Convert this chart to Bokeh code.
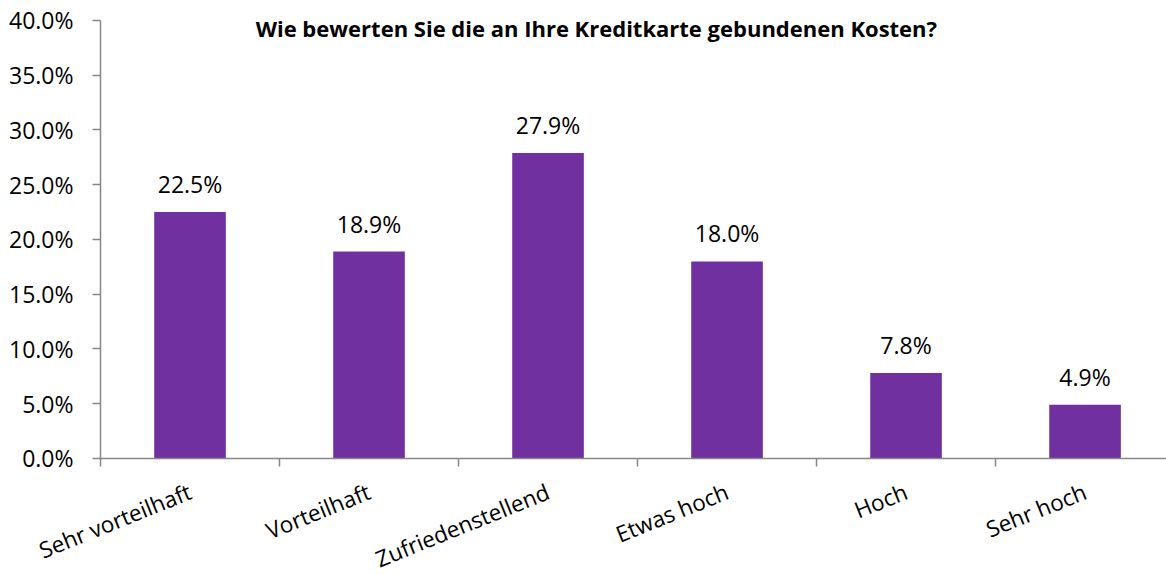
from bokeh.plotting import figure
from bokeh.models import Range1d, FixedTicker, ColumnDataSource, Label
from bokeh.core.properties import value
from bokeh.embed import file_html
from bokeh.resources import INLINE
import math

categories = ["Sehr vorteilhaft", "Vorteilhaft", "Zufriedenstellend", "Etwas hoch", "Hoch", "Sehr hoch"]
values = [22.5, 18.9, 27.9, 18.0, 7.8, 4.9]
y_ticks = [0, 5, 10, 15, 20, 25, 30, 35, 40]
title_text = "Wie bewerten Sie die an Ihre Kreditkarte gebundenen Kosten?"

xs = [i + 0.5 for i in range(len(categories))]
src = ColumnDataSource(dict(x=xs, top=values, lab=[f"{v:.1f}%" for v in values]))

# the frame covers the whole canvas; both axes are pinned at value 0
p = figure(width=1166, height=574, output_backend="svg", toolbar_location=None,
           x_range=Range1d(-0.5587, 5.955), y_range=Range1d(-10.594, 41.826),
           min_border_left=0, min_border_right=0, min_border_top=0, min_border_bottom=0)
p.outline_line_color = None
p.grid.visible = False
p.background_fill_color = "white"
p.border_fill_color = "white"

p.vbar(x="x", top="top", width=0.4, bottom=0, source=src, fill_color="#7030A0", line_color=None)
p.text(x="x", y="top", text="lab", source=src, text_align="center", text_baseline="alphabetic",
       y_offset=-28, text_font=value("Open Sans"), text_font_size="23px", text_color="#000000")

axis_col = "#868686"
# y axis
ya = p.yaxis[0]
ya.fixed_location = 0
ya.bounds = (0, 40)
ya.ticker = FixedTicker(ticks=y_ticks, minor_ticks=[])
ya.major_label_overrides = {t: f"{t:.1f}%" for t in y_ticks}
ya.axis_line_color = axis_col
ya.axis_line_width = 1.5
ya.major_tick_line_color = axis_col
ya.major_tick_line_width = 1.5
ya.major_tick_out = 8
ya.major_tick_in = 0
ya.minor_tick_line_color = None
ya.major_label_standoff = 19
ya.major_label_text_font = "Open Sans"
ya.major_label_text_font_size = "23px"
ya.major_label_text_color = "#000000"

# x axis at value 0, ticks at category boundaries, labels at centers
xa = p.xaxis[0]
xa.fixed_location = 0
xa.bounds = (0, 6)
xa.ticker = FixedTicker(ticks=xs, minor_ticks=list(range(0, 7)))
xa.major_label_overrides = {x: c for x, c in zip(xs, categories)}
xa.axis_line_color = axis_col
xa.axis_line_width = 1.5
xa.major_tick_line_color = None
xa.major_tick_out = 0
xa.major_tick_in = 0
xa.minor_tick_line_color = axis_col
xa.minor_tick_line_width = 1.5
xa.minor_tick_out = 8
xa.minor_tick_in = 0
xa.major_label_orientation = math.radians(22)
xa.major_label_standoff = 24
xa.major_label_text_font = "Open Sans"
xa.major_label_text_font_size = "22.5px"
xa.major_label_text_color = "#000000"

p.add_layout(Label(x=2.77, y=39.27, text=title_text, text_align="center", text_baseline="middle",
                   text_font="Open Sans", text_font_style="bold", text_font_size="22px",
                   text_color="#000000"))

open("out.html", "w").write(file_html(p, INLINE))
